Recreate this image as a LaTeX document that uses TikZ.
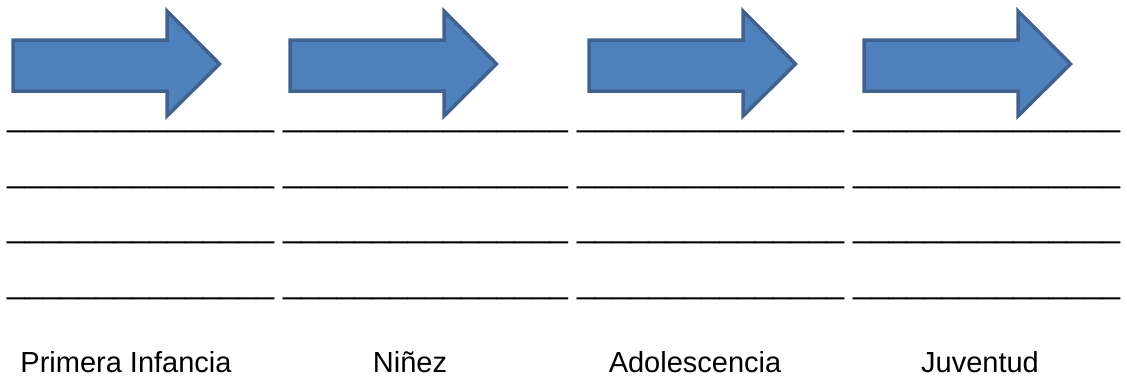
\documentclass[tikz,border=0pt]{standalone}
\usepackage{fontspec}
\setmainfont{Liberation Sans}
\usetikzlibrary{positioning}
\definecolor{arrowfill}{HTML}{4F81BD}
\definecolor{arrowline}{HTML}{41628F}
\newcommand{\fillin}[1]{\foreach \k in {1,...,#1}{\_}}

\begin{document}
\begin{tikzpicture}[x=1pt, y=-1pt,
    stage/.style={fill=arrowfill, draw=arrowline, line width=3.5pt, line join=miter},
    blank/.style={inner sep=0pt, anchor=base west, font=\fontsize{32}{32}\selectfont},
    lbl/.style={inner sep=0pt, anchor=base, font=\fontsize{29}{30}\selectfont}]
    \useasboundingbox (0,0) rectangle (1127,376);

    % Arrows
    \foreach \l in {11, 288, 587, 862} {
        \draw[stage] (\l+2,40) -- (\l+156,40) -- (\l+156,11) -- (\l+208.5,64)
            -- (\l+156,116) -- (\l+156,91) -- (\l+2,91) -- cycle;
    }

    % Lines to fill in
    \foreach \r/\y in {1/126, 2/182, 3/237, 4/293} {
        \node[blank] (u\r a) at (7,\y) {\fillin{15}};
        \node[blank] (u\r b) at (283,\y) {\fillin{16}};
        \node[blank] (u\r c) at (577,\y) {\fillin{15}};
        \node[blank] (u\r d) at (853,\y) {\fillin{15}};
    }

    % Stages
    \node[lbl] (infancia) at (126,372) {Primera Infancia};
    \node[lbl] (ninez) at (410,372) {Niñez};
    \node[lbl] (adolescencia) at (695,372) {Adolescencia};
    \node[lbl] (juventud) at (980,372) {Juventud};
\end{tikzpicture}
\end{document}
